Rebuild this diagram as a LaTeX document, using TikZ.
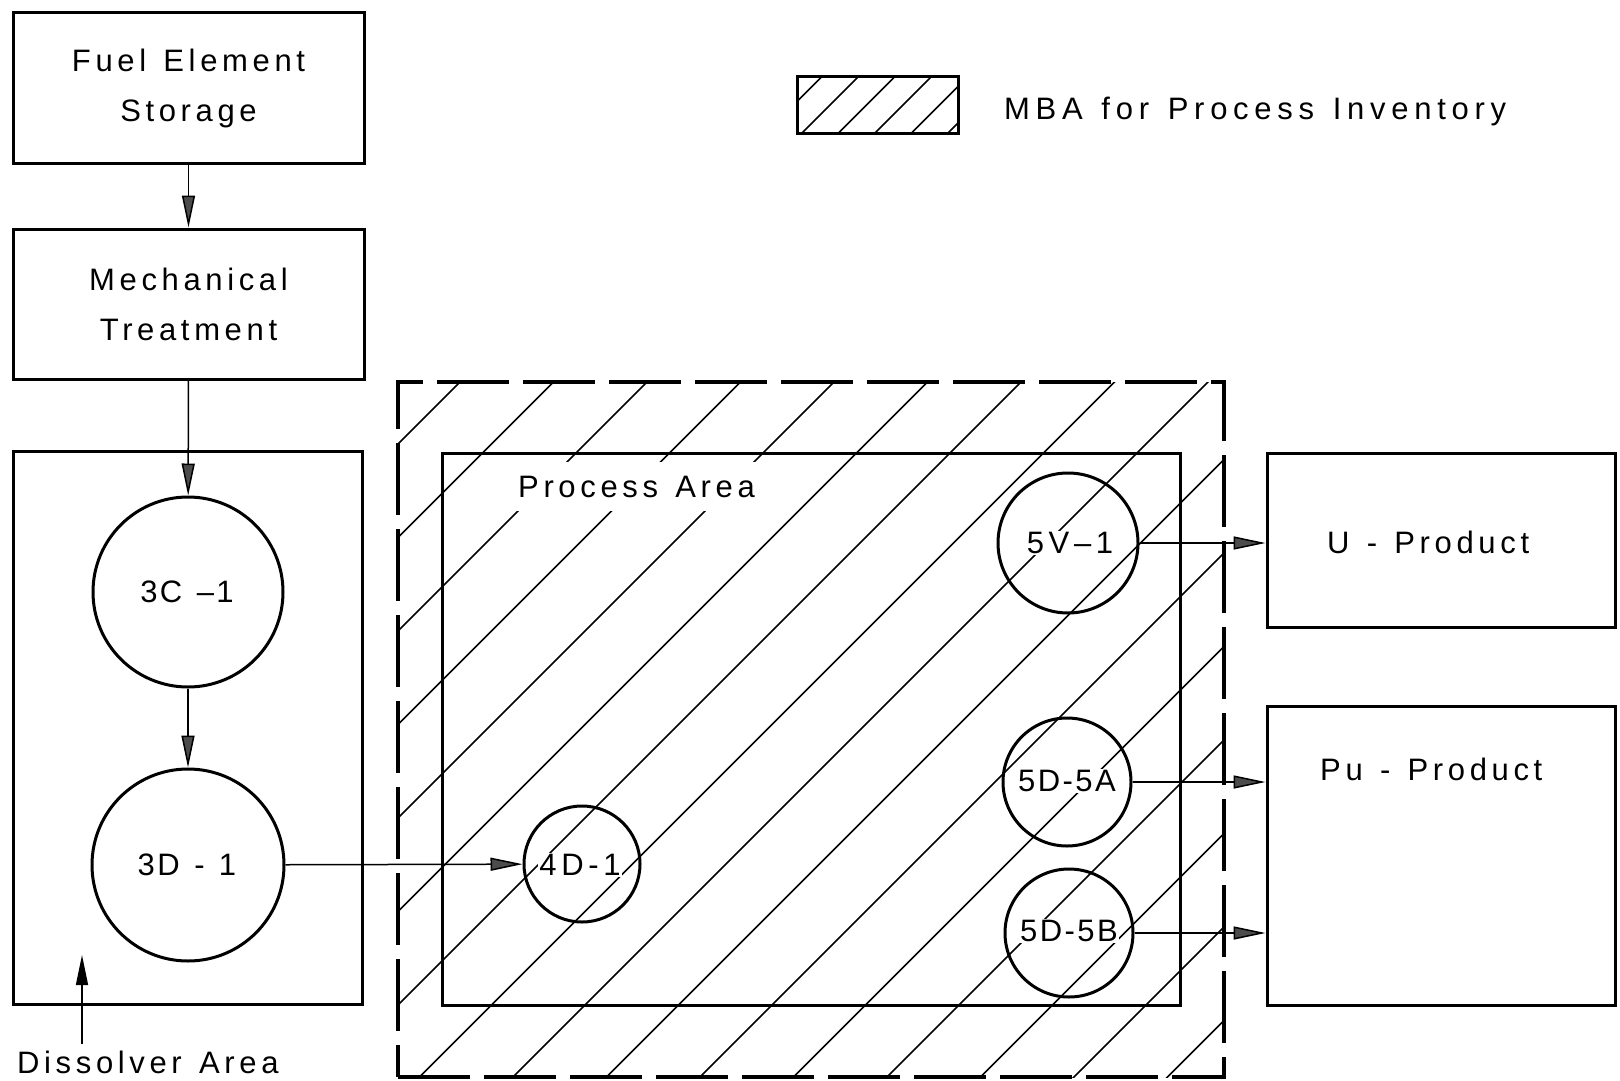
\documentclass[tikz,border=0pt]{standalone}
\usepackage{fontspec}
\setmainfont{Liberation Sans}[LetterSpace=15,WordSpace=1.3]
\newfontfamily\labfont{Liberation Sans}[LetterSpace=8,WordSpace=1.3]
\newfontfamily\legfont{Liberation Sans}[LetterSpace=18.5,WordSpace=1.3]
\usetikzlibrary{arrows.meta}
\begin{document}
\begin{tikzpicture}[x=1pt,y=-1pt,
  every node/.style={font=\fontsize{31}{50}\selectfont, inner sep=0pt},
  box/.style={draw, line width=3pt, rectangle},
  tank/.style={draw, line width=3pt, circle},
  hatchline/.style={line width=1.5pt},
  flow/.style={line width=1.5pt, -{Triangle[length=32pt,width=13pt,fill=black!70]}},
  tanklbl/.style={fill=white, inner sep=1pt},
  narrowlbl/.style={font=\labfont\fontsize{31}{50}\selectfont}
]
\useasboundingbox (0,0) rectangle (1620,1081);

% hatching of the MBA for process inventory
\begin{scope}
  \clip (398,382) rectangle (1224,1077);
  \foreach \k in {0,...,15} {
    \pgfmathsetmacro\cc{842+93.5*\k}
    \draw[hatchline] (\cc-1100,1100) -- (\cc-370,370);
  }
\end{scope}
\node[draw, line width=3.5pt, dash pattern=on 72pt off 14pt, minimum width=826pt, minimum height=695pt] (mba) at (811,729.5) {};

% legend
\begin{scope}
  \clip (797,77) rectangle (958,133);
  \foreach \k in {-1,...,5} {
    \pgfmathsetmacro\cc{935+36.5*\k}
    \draw[hatchline] (\cc-140,140) -- (\cc-70,70);
  }
\end{scope}
\node[box, minimum width=161pt, minimum height=56pt] (leg) at (877.5,105) {};
\node[anchor=base west, font=\legfont\fontsize{31}{50}\selectfont] (legtxt) at (1004,119) {MBA for Process Inventory};

% left column
\node[box, minimum width=351pt, minimum height=150pt, align=center] (fes) at (188.5,88) {Fuel Element\\Storage};
\node[box, minimum width=351pt, minimum height=150pt, align=center] (mt) at (188.5,304) {Mechanical\\Treatment};
\node[box, minimum width=349pt, minimum height=553pt] (dis) at (187.5,727.5) {};
\node[tank, minimum size=190pt] (c3C) at (188,592) {};
\node[narrowlbl] (t3C) at (187,592) {3C –1};
\node[tank, minimum size=192pt] (c3D) at (188,865) {};
\node[narrowlbl] (t3D) at (187,865) {3D - 1};

\node[anchor=base west] (dislbl) at (17,1073) {Dissolver Area};
\coordinate (distip) at (82,955);
\draw[line width=1.5pt, -{Triangle[length=30pt,width=12pt]}] ([yshift=6pt]dislbl.north -| distip) -- (distip);

% process area
\node[box, minimum width=738pt, minimum height=552pt] (proc) at (811,729) {};
\node[fill=white, inner xsep=14pt, inner ysep=14pt, anchor=base west] (proclbl) at (504,497) {Process Area};

\node[tank, minimum size=116pt] (c4D) at (582,864) {};
\node[tanklbl] (t4D) at (580,865) {4D-1};
\node[tank, minimum size=140pt] (c5V) at (1068,543) {};
\node[tanklbl] (t5V) at (1070,543) {5V–1};
\node[tank, minimum size=128pt] (c5A) at (1067,782) {};
\node[tanklbl, narrowlbl] (t5A) at (1067,781) {5D-5A};
\node[tank, minimum size=128pt] (c5B) at (1069,933) {};
\node[tanklbl, narrowlbl] (t5B) at (1069,931) {5D-5B};

% products
\node[box, minimum width=348pt, minimum height=174pt] (uprod) at (1441,540) {};
\node[anchor=base west] (ulbl) at (1327,553) {U - Product};
\node[box, minimum width=348pt, minimum height=299pt] (pprod) at (1441,855.5) {};
\node[anchor=base west] (plbl) at (1320,780) {Pu - Product};

% flows
\draw[flow] (fes) -- (mt);
\draw[flow] (mt) -- (c3C);
\draw[flow] (c3C) -- (c3D);
\draw[flow] (c3D) -- (c4D);
\draw[flow] (c5V.east) -- (c5V.east -| uprod.west);
\draw[flow] (c5A.east) -- (c5A.east -| pprod.west);
\draw[flow] (c5B.east) -- (c5B.east -| pprod.west);
\end{tikzpicture}
\end{document}
